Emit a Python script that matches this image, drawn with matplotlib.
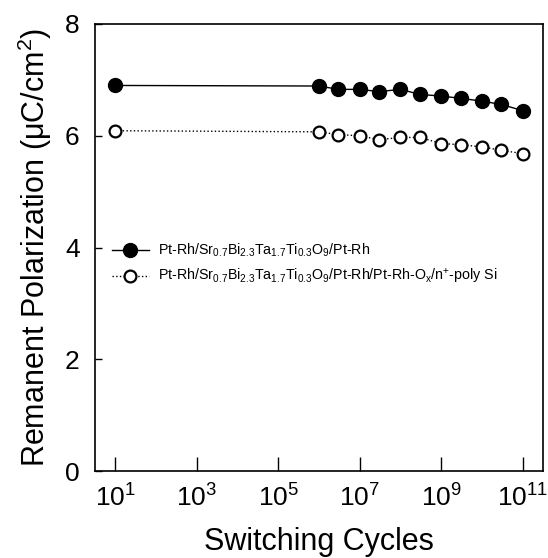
import numpy as np
import matplotlib
matplotlib.use("Agg")
import matplotlib.pyplot as plt

plt.rcParams['font.family'] = ['Liberation Sans', 'DejaVu Sans']
plt.rcParams['mathtext.fontset'] = 'custom'
plt.rcParams['mathtext.rm'] = 'Liberation Sans'
plt.rcParams['mathtext.it'] = 'Liberation Sans:italic'
plt.rcParams['mathtext.default'] = 'regular'

# Switching cycles (same for both samples)
cycles = [1e1, 1e6, 3e6, 1e7, 3e7, 1e8, 3e8, 1e9, 3e9, 1e10, 3e10, 1e11]

# Remanent polarization, uC/cm2
pr_ptrh = [6.90, 6.89, 6.83, 6.83, 6.79, 6.83, 6.74, 6.71, 6.67, 6.62, 6.56, 6.45]
pr_poly = [6.09, 6.07, 6.02, 6.00, 5.93, 5.97, 5.97, 5.86, 5.84, 5.80, 5.74, 5.68]

label_ptrh = r'Pt-Rh/Sr$_{0.7}$Bi$_{2.3}$Ta$_{1.7}$Ti$_{0.3}$O$_{9}$/Pt-Rh'
label_poly = (r'Pt-Rh/Sr$_{0.7}$Bi$_{2.3}$Ta$_{1.7}$Ti$_{0.3}$O$_{9}$/Pt-Rh/'
              r'Pt-Rh-O$_{x}$/n$^{+}$-poly Si')

xtick_vals = [1e1, 1e3, 1e5, 1e7, 1e9, 1e11]
xtick_labels = [r'$10^{1}$', r'$10^{3}$', r'$10^{5}$', r'$10^{7}$', r'$10^{9}$', r'$10^{11}$']
ytick_vals = [0, 2, 4, 6, 8]

fig = plt.figure(figsize=(5.48, 5.58), dpi=100)
ax = fig.add_axes([0.1734, 0.1559, 0.8175, 0.8011])

ax.plot(cycles, pr_ptrh, '-', color='black', lw=1.0, marker='o', ms=10,
        mfc='black', mec='black', label=label_ptrh)
ax.plot(cycles, pr_poly, ':', color='black', lw=1.0, marker='o', ms=8.5,
        mfc='white', mec='black', mew=1.6, label=label_poly)

ax.set_xscale('log')
ax.set_xlim(10**0.5, 10**11.5)
ax.set_ylim(0, 8)
ax.set_xticks(xtick_vals)
ax.set_xticklabels(xtick_labels)
ax.xaxis.set_minor_locator(matplotlib.ticker.NullLocator())
ax.set_yticks(ytick_vals)

ax.tick_params(axis='x', direction='in', length=10, width=1, labelsize=19, pad=10)
ax.tick_params(axis='y', direction='in', length=5, width=1, labelsize=19, pad=11)
for s in ax.spines.values():
    s.set_linewidth(1.2)

ax.set_xlabel('Switching Cycles', fontsize=22, labelpad=11)
ax.set_ylabel(r'Remanent Polarization ($\mu$C/cm$^{2}$)', fontsize=22, labelpad=8)

ax.legend(loc='center left', bbox_to_anchor=(0.015, 0.463), frameon=False,
          fontsize=10.3, handlelength=2.6, handletextpad=0.6, labelspacing=0.55,
          borderaxespad=0.3)

fig.savefig('out.png', dpi=100)
